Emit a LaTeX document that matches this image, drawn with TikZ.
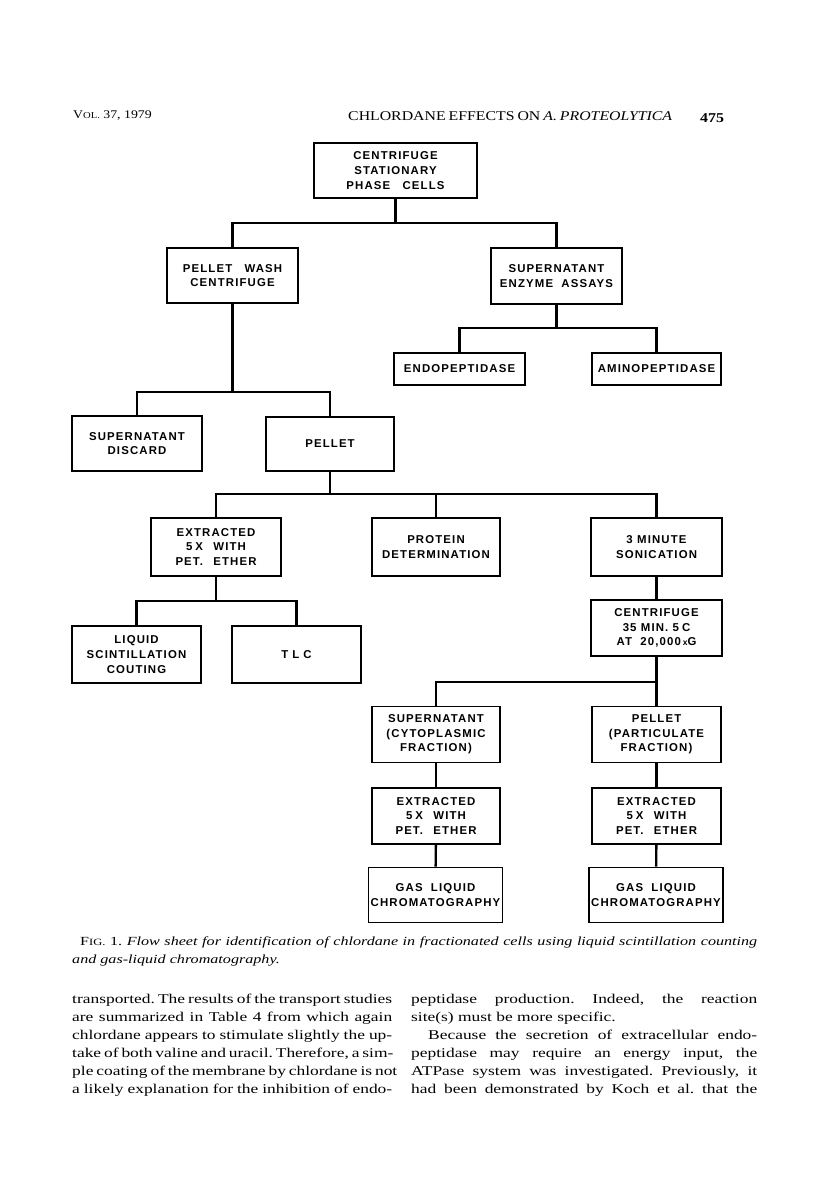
\documentclass[tikz,border=0pt]{standalone}
\usepackage{fontspec}
\newfontfamily\pagefont{Liberation Serif}[FakeStretch=1.18]
\newfontfamily\bodyfont{Liberation Serif}[FakeStretch=1.3]
\newfontfamily\boxfont{Liberation Sans}[LetterSpace=10]
\frenchspacing
\tikzset{
  box/.style={draw, line width=1.9pt, inner sep=0pt, align=center,
    font=\boxfont\bfseries\fontsize{11.4}{14.6}\selectfont},
  conn/.style={line width=2.4pt},
  txt/.style={anchor=base west, inner sep=0pt, font=\bodyfont\fontsize{13.4}{18}\selectfont},
}
\newcommand{\jl}[2]{\makebox[#1][s]{#2}}
\begin{document}
\begin{tikzpicture}[x=1pt,y=-1pt]
\useasboundingbox[fill=white] (0,0) rectangle (816,1185);

% header
\node[txt, font=\pagefont\fontsize{11.7}{14}\selectfont] (vol) at (73,119) {V{\fontsize{9}{10}\selectfont OL.} 37, 1979};
\node[txt, font=\pagefont\fontsize{13.4}{14}\selectfont] (title) at (348,121) {\jl{324pt}{CHLORDANE EFFECTS ON \textit{A. PROTEOLYTICA}}};
\node[txt, font=\pagefont\bfseries\fontsize{13.5}{14}\selectfont] (page) at (700,123) {475};

% boxes
\node[box, minimum width=163pt, minimum height=55pt] (top) at (395.5,170.5) {CENTRIFUGE\\STATIONARY\\PHASE\hspace{8pt} CELLS};
\node[box, minimum width=131pt, minimum height=55pt] (pw) at (232.5,275.5) {PELLET\hspace{8pt} WASH\\CENTRIFUGE};
\node[box, minimum width=131pt, minimum height=56pt] (sea) at (556.5,276) {SUPERNATANT\\ENZYME\hspace{4pt} ASSAYS};
\node[box, minimum width=131pt, minimum height=32pt] (endo) at (459.5,369) {ENDOPEPTIDASE};
\node[box, minimum width=129pt, minimum height=32pt] (amino) at (656.5,369) {AMINOPEPTIDASE};
\node[box, minimum width=130pt, minimum height=55pt] (sd) at (137,443.5) {SUPERNATANT\\DISCARD};
\node[box, minimum width=128pt, minimum height=54pt] (pel) at (330,444) {PELLET};
\node[box, minimum width=130pt, minimum height=58pt] (ext1) at (216,547) {EXTRACTED\\5\hspace{3pt}X\hspace{6pt} WITH\\PET.\hspace{6pt} ETHER};
\node[box, minimum width=128pt, minimum height=58pt] (prot) at (436,547) {PROTEIN\\DETERMINATION};
\node[box, minimum width=131pt, minimum height=58pt] (son) at (656.5,547) {3 MINUTE\\SONICATION};
\node[box, minimum width=129pt, minimum height=57pt] (liq) at (136.5,654.5) {LIQUID\\SCINTILLATION\\COUTING};
\node[box, minimum width=129pt, minimum height=57pt] (tlc) at (296.5,654.5) {T\hspace{4pt}L\hspace{4pt}C};
\node[box, minimum width=131pt, minimum height=56pt] (cent) at (656.5,628) {CENTRIFUGE\\35 MIN. 5\hspace{3pt}C\\AT\hspace{4pt} 20,000\hspace{2pt}{\fontsize{8.5}{8}\selectfont x}G};
\node[box, minimum width=128pt, minimum height=56pt] (sup) at (436,734.5) {SUPERNATANT\\(CYTOPLASMIC\\FRACTION)};
\node[box, minimum width=129pt, minimum height=56pt] (ppart) at (656.5,734.5) {PELLET\\(PARTICULATE\\FRACTION)};
\node[box, minimum width=128pt, minimum height=56pt] (ext2) at (436,816) {EXTRACTED\\5\hspace{3pt}X\hspace{6pt} WITH\\PET.\hspace{6pt} ETHER};
\node[box, minimum width=129pt, minimum height=56pt] (ext3) at (656.5,816) {EXTRACTED\\5\hspace{3pt}X\hspace{6pt} WITH\\PET.\hspace{6pt} ETHER};
\node[box, minimum width=134pt, minimum height=55pt] (gas1) at (435.5,895) {GAS\hspace{4pt} LIQUID\\CHROMATOGRAPHY};
\node[box, minimum width=134pt, minimum height=55pt] (gas2) at (656,895) {GAS\hspace{4pt} LIQUID\\CHROMATOGRAPHY};

% connectors
\draw[conn] (top.south) -- ++(0,24) -| (pw.north);
\draw[conn] (top.south) -- ++(0,24) -| (sea.north);
\draw[conn] (sea.south) -- ++(0,23) -| (endo.north);
\draw[conn] (sea.south) -- ++(0,23) -| (amino.north);
\draw[conn] (pw.south) -- ++(0,88) -| (sd.north);
\draw[conn] (pw.south) -- ++(0,88) -| (pel.north);
\draw[conn] (pel.south) -- ++(0,22) -| (ext1.north);
\draw[conn] (pel.south) -- ++(0,22) -| (prot.north);
\draw[conn] (pel.south) -- ++(0,22) -| (son.north);
\draw[conn] (ext1.south) -- ++(0,24) -| (liq.north);
\draw[conn] (ext1.south) -- ++(0,24) -| (tlc.north);
\draw[conn] (son) -- (cent);
\draw[conn] (cent.south) -- ++(0,25) -| (sup.north);
\draw[conn] (cent.south) -- ++(0,25) -| (ppart.north);
\draw[conn] (sup) -- (ext2);
\draw[conn] (ext2) -- (gas1);
\draw[conn] (ppart) -- (ext3);
\draw[conn] (ext3) -- (gas2);

% caption
\node[txt, font=\bodyfont\fontsize{12.4}{18}\selectfont] (cap1) at (80,945) {\jl{677pt}{F{\fontsize{9.6}{10}\selectfont IG.} 1. \textit{Flow sheet for identification of chlordane in fractionated cells using liquid scintillation counting}}};
\node[txt, font=\bodyfont\fontsize{12.4}{18}\selectfont] (cap2) at (72,963) {\textit{and gas-liquid chromatography.}};

% body, left column
\node[txt] (l1) at (72,1003) {\jl{320pt}{transported. The results of the transport studies}};
\node[txt] (l2) at (72,1021) {\jl{320pt}{are summarized in Table 4 from which again}};
\node[txt] (l3) at (72,1039) {\jl{320pt}{chlordane appears to stimulate slightly the up-}};
\node[txt] (l4) at (72,1057) {\jl{320pt}{take of both valine and uracil. Therefore, a sim-}};
\node[txt] (l5) at (72,1075) {\jl{320pt}{ple coating of the membrane by chlordane is not}};
\node[txt] (l6) at (72,1093) {\jl{320pt}{a likely explanation for the inhibition of endo-}};

% body, right column
\node[txt] (r1) at (411,1003) {\jl{346pt}{peptidase production. Indeed, the reaction}};
\node[txt] (r2) at (411,1021) {site(s) must be more specific.};
\node[txt] (r3) at (428,1039) {\jl{329pt}{Because the secretion of extracellular endo-}};
\node[txt] (r4) at (411,1057) {\jl{346pt}{peptidase may require an energy input, the}};
\node[txt] (r5) at (411,1075) {\jl{346pt}{ATPase system was investigated. Previously, it}};
\node[txt] (r6) at (411,1093) {\jl{346pt}{had been demonstrated by Koch et al. that the}};
\end{tikzpicture}
\end{document}
